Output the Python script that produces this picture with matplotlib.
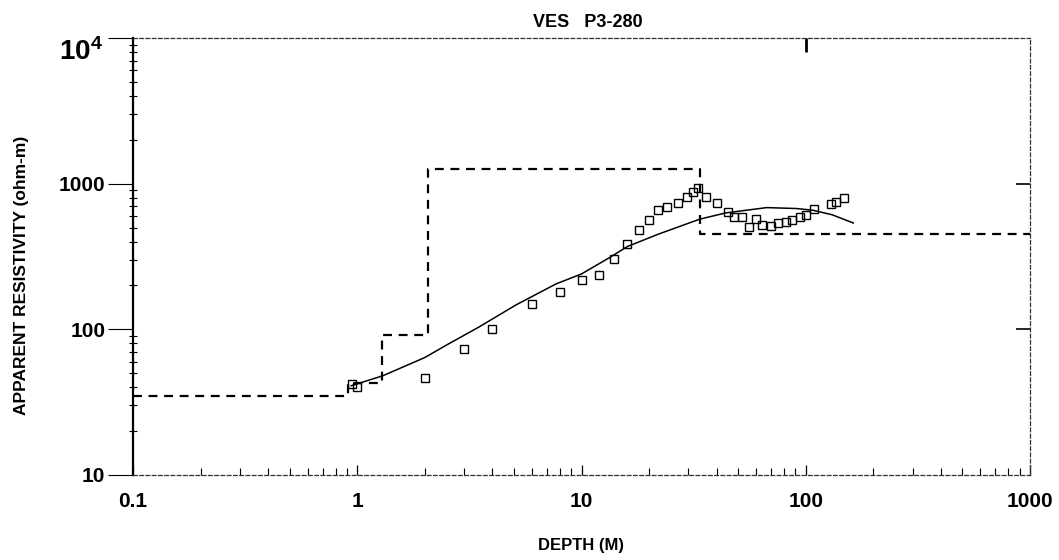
import matplotlib
matplotlib.use('Agg')
import matplotlib.pyplot as plt
from matplotlib.ticker import LogLocator, NullFormatter, FixedLocator, FixedFormatter

plt.rcParams['font.family'] = ['Liberation Sans', 'DejaVu Sans']

# layered model (dashed step)
layer_top = [0.1, 0.91, 1.29, 2.06, 33.6, 1000]
layer_rho = [35, 42.5, 92, 1260, 450, 450]

# field data (squares)
obs_ab = [0.95, 1.0, 2.0, 3.0, 4.0, 6.0, 8.0, 10, 12, 14, 16, 18, 20, 22, 24, 27, 29.4, 31.5, 33,
          36, 40, 45, 48, 52, 56, 60, 64, 70, 75, 82, 87, 94, 100, 109, 130, 137, 148]
obs_rho = [42, 40, 46, 73, 100, 150, 180, 218, 236, 304, 385, 480, 563, 660, 690, 740, 810, 880, 930,
           810, 735, 640, 595, 590, 505, 570, 520, 510, 537, 545, 563, 590, 610, 670, 725, 750, 797]

# computed curve
calc_ab = [0.94, 1.3, 2.0, 2.5, 3.5, 5.1, 7.7, 10, 13.3, 16, 22, 33.6, 44, 67, 91, 107, 131, 163]
calc_rho = [41, 48, 64, 78, 104, 147, 205, 240, 310, 370, 450, 570, 630, 685, 675, 658, 612, 537]

fig = plt.figure(figsize=(10.59, 5.6), dpi=100)
ax = fig.add_axes([133 / 1059, 1 - 475 / 560, (1030 - 133) / 1059, (475 - 38) / 560])

ax.step(layer_top, layer_rho, where='post', color='black', lw=1.6, ls=(0, (4, 3)))
ax.plot(calc_ab, calc_rho, color='black', lw=1.1)
ax.plot(obs_ab, obs_rho, ls='none', marker='s', ms=6, mfc='none', mec='black', mew=1.0)

ax.set_xscale('log')
ax.set_yscale('log')
ax.set_xlim(0.1, 1000)
ax.set_ylim(10, 10000)

# spines
ax.spines['left'].set_linewidth(1.6)
for s in ['top', 'right', 'bottom']:
    ax.spines[s].set_linewidth(0.9)
    ax.spines[s].set_linestyle((0, (3, 2)))
    ax.spines[s].set_color('#333333')

# ticks
ax.xaxis.set_major_locator(FixedLocator([0.1, 1, 10, 100, 1000]))
ax.xaxis.set_major_formatter(FixedFormatter(['0.1', '1', '10', '100', '1000']))
ax.xaxis.set_minor_locator(LogLocator(base=10, subs=range(2, 10)))
ax.xaxis.set_minor_formatter(NullFormatter())
ax.yaxis.set_major_locator(FixedLocator([10, 100, 1000, 10000]))
ax.yaxis.set_major_formatter(FixedFormatter(['10', '100', '1000', '']))
ax.yaxis.set_minor_locator(LogLocator(base=10, subs=range(2, 10)))
ax.yaxis.set_minor_formatter(NullFormatter())

ax.tick_params(axis='x', which='major', direction='in', length=7, width=0.9, pad=12,
               labelsize=15, bottom=True, top=False)
ax.tick_params(axis='x', which='minor', direction='in', length=5, width=0.8, bottom=True, top=False)
ax.tick_params(axis='y', which='major', direction='out', length=18, width=0.8, pad=2,
               labelsize=15, left=True, right=False)
ax.tick_params(axis='y', which='minor', direction='inout', length=6, width=0.8, left=True, right=False)
for lab in ax.get_xticklabels() + ax.get_yticklabels():
    lab.set_fontweight('bold')

# right and top inner ticks
sec_y = ax.secondary_yaxis('right')
sec_y.set_yticks([100, 1000])
sec_y.yaxis.set_minor_locator(FixedLocator([]))
sec_y.tick_params(direction='in', length=10, width=1.2, labelright=False)
sec_y.spines['right'].set_visible(False)
sec_x = ax.secondary_xaxis('top')
sec_x.set_xticks([100])
sec_x.xaxis.set_minor_locator(FixedLocator([]))
sec_x.tick_params(direction='in', length=10, width=2, labeltop=False)
sec_x.spines['top'].set_visible(False)

ax.text(-0.034, 0.968, r'$\mathregular{10^4}$', transform=ax.transAxes, ha='right', va='center',
        fontsize=20, fontweight='bold')

ax.set_title('VES   P3-280', fontsize=13, fontweight='bold', x=0.507, pad=8)
ax.set_xlabel('DEPTH (M)', fontsize=12, fontweight='bold', labelpad=20)
fig.text(22 / 1059, 1 - 275 / 560, 'APPARENT RESISTIVITY (ohm-m)', rotation=90, ha='center',
         va='center', fontsize=12.5, fontweight='bold')

fig.savefig('out.png', dpi=100, facecolor='white')
